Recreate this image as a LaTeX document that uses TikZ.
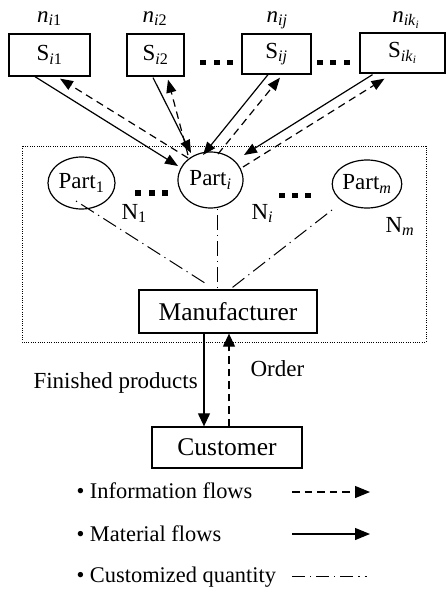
\documentclass[tikz,border=0pt]{standalone}
\usepackage{fontspec}
\setmainfont{Liberation Serif}
\usetikzlibrary{arrows.meta,calc,shapes.geometric}
\begin{document}
\begin{tikzpicture}[x=1pt,y=-1pt,
  font=\fontsize{23}{27}\selectfont,
  box/.style={draw, line width=1.3pt, inner sep=0pt},
  part/.style={ellipse, draw, line width=1.2pt, inner sep=0pt},
  mat/.style={line width=1.2pt, -{Triangle[length=13pt,width=10pt]}},
  info/.style={mat, dash pattern=on 7.5pt off 5pt},
  cq/.style={line width=1pt, dash pattern=on 1.2pt off 5pt on 15pt off 5pt},
  dotbox/.style={line width=1pt, dash pattern=on 1pt off 1.3pt},
  big/.style={font=\fontsize{25.5}{30}\selectfont},
  leg/.style={anchor=base west, font=\fontsize{22.4}{26}\selectfont},
  legarrow/.style={line width=1.2pt, -{Triangle[length=15pt,width=12pt]}}
]
\useasboundingbox (0,0) rectangle (447,589);

% firm boundary
\draw[dotbox] (22,146) rectangle (426,342);

% suppliers
\node[box, minimum width=81pt, minimum height=42pt] (si1) at (49.5,55) {S\textsubscript{\textit{i}1}};
\node[box, minimum width=57pt, minimum height=42pt] (si2) at (155.5,55) {S\textsubscript{\textit{i}2}};
\node[box, minimum width=69pt, minimum height=40pt] (sij) at (276.5,54) {S\textsubscript{\textit{ij}}};
\node[box, minimum width=85pt, minimum height=40pt] (sik) at (402.5,53) {S\textsubscript{\textit{ik}\textsubscript{\textit{i}}}};

\node[anchor=base] (ni1) at (49.5,22) {\textit{n}\textsubscript{\textit{i}1}};
\node[anchor=base] (ni2) at (155,22) {\textit{n}\textsubscript{\textit{i}2}};
\node[anchor=base] (nij) at (277,22) {\textit{n}\textsubscript{\textit{ij}}};
\node[anchor=base] (nik) at (406,22) {\textit{n}\textsubscript{\textit{ik}\textsubscript{\textit{i}}}};

% dots between suppliers
\foreach \x in {203,217,230,320,333,347} \fill (\x-3.3,59.5) rectangle (\x+3.3,65);

% parts
\node[part, minimum width=67pt, minimum height=52pt] (part1) at (81.5,183) {Part\textsubscript{1}};
\node[part, minimum width=65pt, minimum height=56pt] (parti) at (210.5,180) {Part\textsubscript{\textit{i}}};
\node[part, minimum width=66pt, minimum height=48pt] (partm) at (367,184) {Part\textsubscript{\textit{m}}};

\foreach \x in {138,152,165} \fill (\x-3.3,190) rectangle (\x+3.3,195.5);
\foreach \x in {282,295,308} \fill (\x-3.3,192.5) rectangle (\x+3.3,198);

\node[anchor=base west] (n1) at (118,219) {N\textsubscript{1}};
\node[anchor=base west] (nni) at (248,219) {N\textsubscript{\textit{i}}};
\node[anchor=base west] (nm) at (382,232) {N\textsubscript{\textit{m}}};

% manufacturer and customer
\node[box, big, minimum width=178pt, minimum height=43pt] (manu) at (228,311.5) {Manufacturer};
\node[box, big, minimum width=150pt, minimum height=41pt] (cust) at (227,447.5) {Customer};

% supplier flows
\draw[mat] ($(si1.south)+(-14.5,0)$) -- ($(parti.center)+(-32.5,-14)$);
\draw[info] ($(parti.center)+(-22.5,-22)$) -- ($(si1.south)+(10.5,2)$);
\draw[mat] ($(si2.south)+(-2.5,1)$) -- ($(parti.center)+(-19.5,-27)$);
\draw[info] ($(parti.center)+(-22.5,-25)$) -- ($(si2.south)+(12.5,3)$);
\draw[mat] ($(sij.south)+(-8.5,0)$) -- ($(parti.center)+(-7.5,-25)$);
\draw[info] ($(parti.center)+(7.5,-26)$) -- ($(sij.south)+(3.5,3)$);
\draw[mat] ($(sik.south)+(-30,1)$) -- ($(parti.center)+(33.5,-25)$);
\draw[info] ($(parti.center)+(32.5,-13)$) -- ($(sik.south)+(-18,5)$);

% customized quantities
\draw[cq] ($(part1.center)+(-5.5,18)$) -- ($(manu.north)+(-21,-5)$);
\draw[cq] ($(parti.south)+(6.5,0)$) -- ($(manu.north)+(-11,0)$);
\draw[cq] ($(partm.center)+(-35,26)$) -- ($(manu.north)+(2,0)$);

% manufacturer - customer
\draw[mat, -{Triangle[length=13pt,width=12pt]}] ($(manu.south)+(-24,0)$) -- ($(cust.north)+(-23,0)$);
\draw[info, -{Triangle[length=13pt,width=12pt]}] ($(cust.north)+(2,0)$) -- ($(manu.south)+(1,0)$);
\node[anchor=base west] (fp) at (30,388) {Finished products};
\node[anchor=base west] (ord) at (247,376) {Order};

% legend
\node[leg] (l1) at (73,498) {• Information flows};
\node[leg] (l2) at (73,541) {• Material flows};
\node[leg] (l3) at (73,582) {• Customized quantity};
\coordinate (a1s) at (292,492); \coordinate (a1e) at (370,492);
\coordinate (a2s) at (292,534); \coordinate (a2e) at (370,534);
\coordinate (a3s) at (292,576); \coordinate (a3e) at (367,576);
\draw[legarrow, dash pattern=on 7.5pt off 5pt] (a1s) -- (a1e);
\draw[legarrow] (a2s) -- (a2e);
\draw[line width=1pt, dash pattern=on 13pt off 5pt on 1.2pt off 5pt] (a3s) -- (a3e);
\end{tikzpicture}
\end{document}
